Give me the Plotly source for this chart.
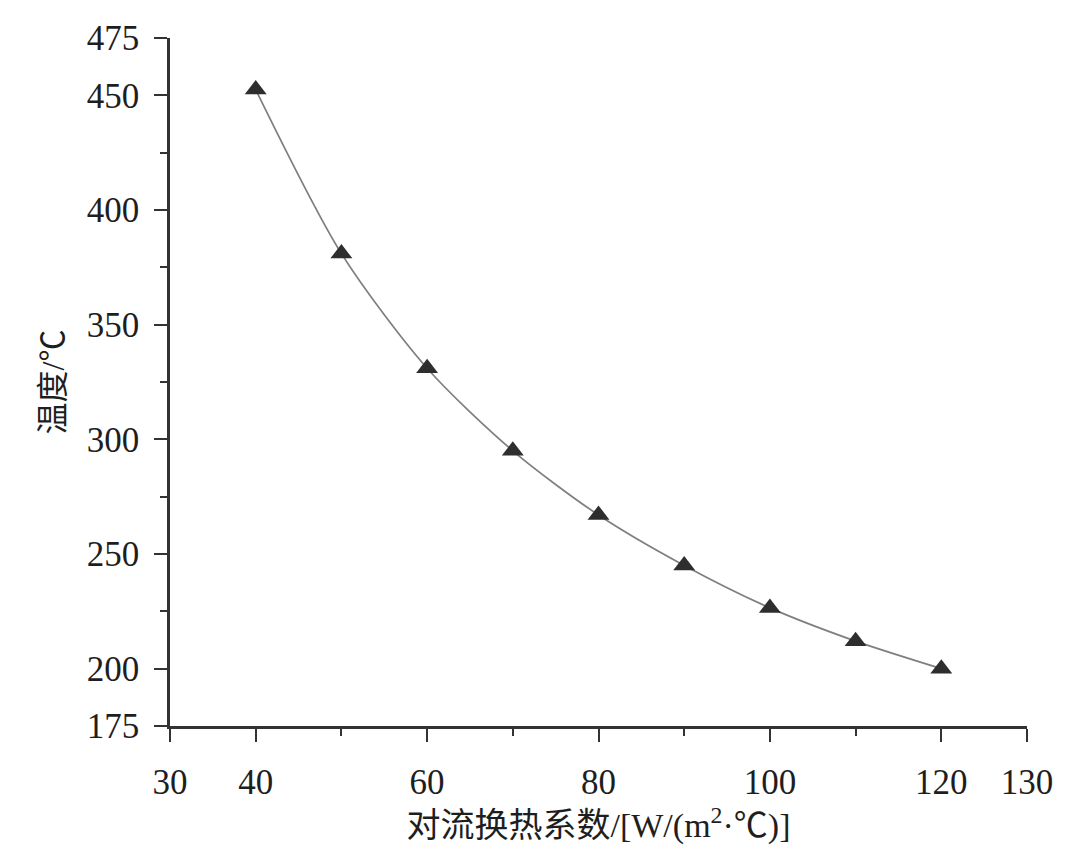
import plotly.graph_objects as go

# Data
h_coef = [40, 50, 60, 70, 80, 90, 100, 110, 120]
temperature = [452.5, 381, 331, 295, 267, 245, 226.5, 212, 200]

x_ticks = [30, 40, 60, 80, 100, 120, 130]
x_minor = [50, 70, 90, 110]
y_ticks = [175, 200, 250, 300, 350, 400, 450, 475]
y_minor = [225, 275, 325, 375, 425]

serif = "Liberation Serif, Times New Roman, Noto Sans CJK SC, serif"

fig = go.Figure()
fig.add_trace(go.Scatter(
    x=h_coef, y=temperature,
    mode="lines+markers",
    line=dict(color="#7f7f7f", width=1.7, shape="spline", smoothing=0.8),
    marker=dict(symbol="triangle-up", size=19, color="#2e2e2e"),
    showlegend=False,
))

axis_common = dict(
    showline=True, linecolor="#333333", linewidth=2.6,
    showgrid=False, zeroline=False,
    ticks="outside", ticklen=13, tickwidth=2.2, tickcolor="#333333",
    tickfont=dict(family=serif, size=35, color="#1e1e1e"),
    mirror=False,
)

fig.update_xaxes(
    **axis_common,
    range=[30, 130],
    tickmode="array", tickvals=x_ticks, ticktext=[str(v) for v in x_ticks],
    minor=dict(tickmode="array", tickvals=x_minor, ticklen=7, tickwidth=2.2,
               tickcolor="#333333", ticks="outside"),
    ticklabelstandoff=10,
    title=dict(text="对流换热系数/[W/(m<sup>2</sup>·℃)]",
               font=dict(family=serif, size=34, color="#1e1e1e"), standoff=10),
)
fig.update_yaxes(
    **axis_common,
    range=[175, 475],
    tickmode="array", tickvals=y_ticks, ticktext=[str(v) for v in y_ticks],
    minor=dict(tickmode="array", tickvals=y_minor, ticklen=7, tickwidth=2.2,
               tickcolor="#333333", ticks="outside"),
    ticklabelstandoff=8,
    title=dict(text="温度/℃",
               font=dict(family=serif, size=32, color="#1e1e1e"), standoff=13),
)

fig.update_layout(
    width=1080, height=861,
    margin=dict(l=170, r=53, t=38, b=135, autoexpand=False),
    paper_bgcolor="white", plot_bgcolor="white",
)

fig.write_html("out.html")
